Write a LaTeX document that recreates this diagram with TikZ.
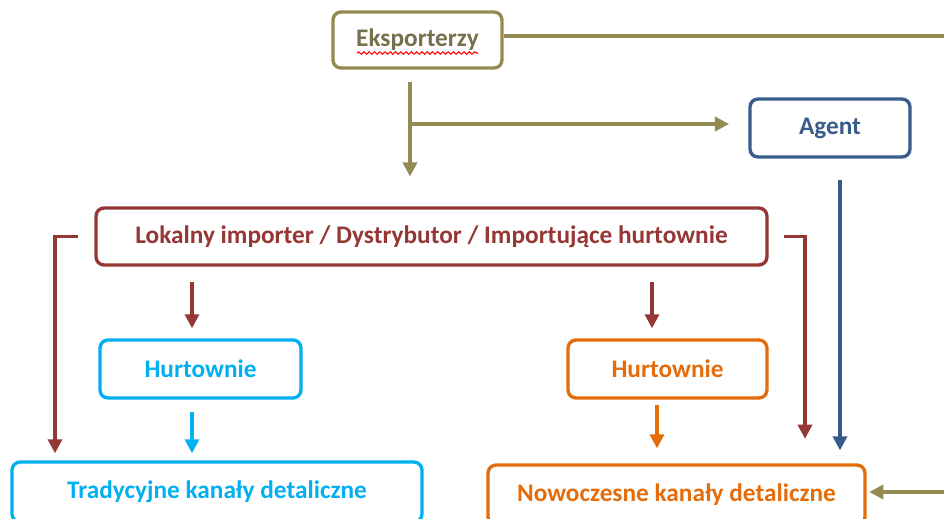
\documentclass[tikz,border=0pt]{standalone}
\usepackage{fontspec}
\setmainfont{Carlito}
\usetikzlibrary{arrows.meta,decorations.pathmorphing}
\definecolor{olivebox}{HTML}{948A54}
\definecolor{olivetext}{HTML}{77704D}
\definecolor{agentblue}{HTML}{385D8A}
\definecolor{darkred}{HTML}{953735}
\definecolor{cyanbox}{HTML}{00B0F0}
\definecolor{orangebox}{HTML}{E46C0A}

\begin{document}
\begin{tikzpicture}[x=0.02cm,y=-0.02cm,
    box/.style={draw, rounded corners=0.16cm, line width=1.9pt, fill=white,
        inner sep=0pt, font=\fontsize{14.4}{16}\selectfont\bfseries},
    arr/.style={line width=1.9pt, -{Triangle[width=8pt,length=8pt]}},
    plain/.style={line width=1.9pt}]
    \useasboundingbox (0,0) rectangle (944,518);

    % Draw boxes
    \node[box, draw=olivebox, text=olivetext, minimum width=3.38cm, minimum height=1.12cm] (eksp) at (417.5,40) {Eksporterzy};
    \node[box, draw=agentblue, text=agentblue, minimum width=3.2cm, minimum height=1.16cm] (agent) at (830,128) {Agent};
    \node[box, draw=darkred, text=darkred, minimum width=13.42cm, minimum height=1.14cm] (lok) at (431.5,236.5) {Lokalny importer / Dystrybutor / Importujące hurtownie};
    \node[box, draw=cyanbox, text=cyanbox, minimum width=4.02cm, minimum height=1.16cm] (hurtA) at (200.5,369) {Hurtownie};
    \node[box, draw=orangebox, text=orangebox, minimum width=3.98cm, minimum height=1.16cm] (hurtB) at (667.5,369) {Hurtownie};
    \node[box, draw=cyanbox, text=cyanbox, minimum width=8.2cm, minimum height=1.2cm] (trad) at (217,492) {Tradycyjne kanały detaliczne};
    \node[box, draw=orangebox, text=orangebox, minimum width=7.54cm, minimum height=1.2cm] (nowo) at (676.5,495) {Nowoczesne kanały detaliczne};

    % Spelling mark under Eksporterzy
    \draw[red, line width=0.6pt, decorate, decoration={snake, amplitude=0.7pt, segment length=3pt}] (357,53) -- (478,53);

    % Edge points
    \coordinate (topedge) at (944,36);
    \coordinate (botedge) at (944,492);
    \coordinate (split) at (410,124);

    % Exporters
    \draw[plain, olivebox] (eksp.east |- topedge) -- (topedge);
    \draw[arr, olivebox, shorten <=6.8pt, shorten >=17pt] (eksp.south -| split) -- (lok.north -| split);
    \draw[arr, olivebox, shorten >=11pt] (split) -- (agent.west |- split);
    \draw[arr, olivebox, shorten >=1.5pt] (botedge) -- (nowo.east |- botedge);

    % Agent
    \draw[arr, agentblue, shorten <=12pt, shorten >=7.4pt] ([xshift=10*0.02cm]agent.south) -- ([xshift=10*0.02cm]agent.south |- nowo.north);

    % Importer
    \draw[arr, darkred, shorten <=8.5pt, shorten >=5.7pt] (lok.south -| 192,0) -- (hurtA.north -| 192,0);
    \draw[arr, darkred, shorten <=8.5pt, shorten >=5.7pt] (lok.south -| 652,0) -- (hurtB.north -| 652,0);
    \draw[arr, darkred, shorten >=4pt] ([xshift=-16*0.02cm]lok.west) -| (trad.north -| 55,0);
    \draw[arr, darkred, shorten >=14pt] ([xshift=15*0.02cm]lok.east) -| (nowo.north -| 805,0);

    % Wholesalers
    \draw[arr, cyanbox, shorten <=6.8pt, shorten >=4pt] (hurtA.south -| 192,0) -- (trad.north -| 192,0);
    \draw[arr, orangebox, shorten <=2.8pt, shorten >=8.5pt] (hurtB.south -| 657,0) -- (nowo.north -| 657,0);

\end{tikzpicture}
\end{document}
